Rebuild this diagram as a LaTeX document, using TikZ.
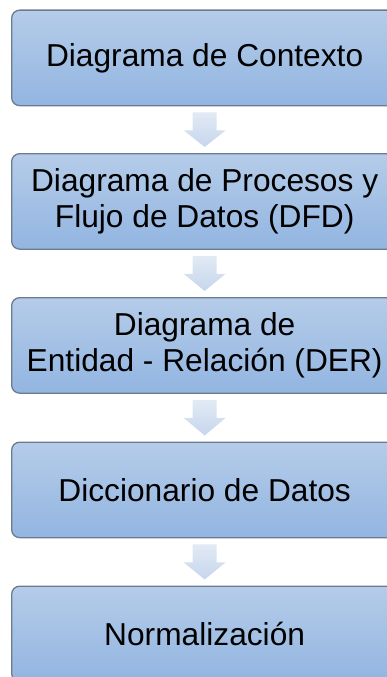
\documentclass[tikz,border=0pt]{standalone}
\usepackage{fontspec}
\setmainfont{Liberation Sans}
\usetikzlibrary{calc}
\definecolor{boxtop}{HTML}{B5CCE9}
\definecolor{boxbot}{HTML}{92B5E1}
\definecolor{boxline}{HTML}{6D7C8C}
\definecolor{arrtop}{HTML}{E2EAF5}
\definecolor{arrbot}{HTML}{C5D6EC}
\begin{document}
\begin{tikzpicture}[x=1pt,y=-1pt,
  stepbox/.style={draw=boxline, line width=1.3pt, rounded corners=8pt,
    top color=boxtop, bottom color=boxbot,
    minimum width=386pt, minimum height=95.5pt, inner sep=0pt,
    anchor=north west, align=center,
    font=\fontsize{31.7}{36}\selectfont},
  blockarrow/.style={top color=arrtop, bottom color=arrbot, draw=none}]
\useasboundingbox (0,0) rectangle (387,677);
\clip (0,0) rectangle (387,677);
\node[stepbox] (b1) at (11,9.5) {Diagrama de Contexto};
\node[stepbox] (b2) at (11,153) {Diagrama de Procesos y\\Flujo de Datos (DFD)};
\node[stepbox] (b3) at (11,297) {Diagrama de\\Entidad - Relación (DER)};
\node[stepbox] (b4) at (11,441.5) {Diccionario de Datos};
\node[stepbox] (b5) at (11,585.5) {Normalización};
\foreach \a/\b in {b1/b2,b2/b3,b3/b4,b4/b5}{
  \path[blockarrow] ($(\a.south)+(-12,6)$) -- ($(\a.south)+(12,6)$)
    -- ($(\a.south)+(12,24)$) -- ($(\a.south)+(21,24)$)
    -- ($(\b.north)+(0,-6)$)
    -- ($(\a.south)+(-21,24)$) -- ($(\a.south)+(-12,24)$) -- cycle;
}
\end{tikzpicture}
\end{document}
